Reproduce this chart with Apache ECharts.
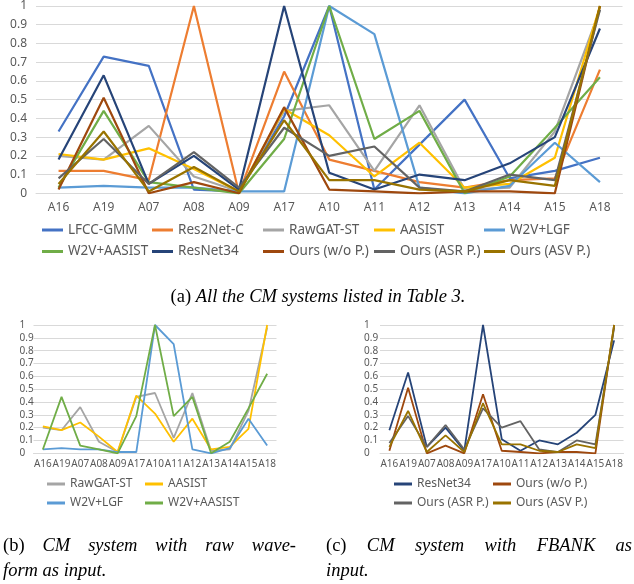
<!DOCTYPE html>
<html><head><meta charset="utf-8">
<script src="https://cdn.jsdelivr.net/npm/echarts@6/dist/echarts.min.js"></script>
<style>html,body{margin:0;padding:0;background:#fff}#c{width:634px;height:584px}</style>
</head><body><div id="c"></div>
<script>
// ---- data ----
const categories = ['A16','A19','A07','A08','A09','A17','A10','A11','A12','A13','A14','A15','A18'];
const yTickMax = 1;
const yTickStep = 0.1;

const lfccGmm    = [0.33, 0.73, 0.68, 0.02, 0.01, 0.41, 1.00, 0.02, 0.26, 0.50, 0.08, 0.12, 0.19];
const res2NetC   = [0.12, 0.12, 0.07, 1.00, 0.00, 0.65, 0.18, 0.12, 0.06, 0.03, 0.07, 0.08, 0.66];
const rawGatSt   = [0.20, 0.18, 0.36, 0.09, 0.01, 0.44, 0.47, 0.12, 0.47, 0.02, 0.03, 0.33, 0.98];
const aasist     = [0.21, 0.18, 0.24, 0.13, 0.01, 0.45, 0.31, 0.09, 0.27, 0.03, 0.05, 0.19, 1.00];
const w2vLgf     = [0.03, 0.04, 0.03, 0.03, 0.01, 0.01, 1.00, 0.85, 0.03, 0.00, 0.04, 0.27, 0.06];
const w2vAasist  = [0.03, 0.44, 0.06, 0.03, 0.00, 0.29, 1.00, 0.29, 0.44, 0.00, 0.09, 0.35, 0.62];
const resNet34   = [0.18, 0.63, 0.05, 0.20, 0.02, 1.00, 0.11, 0.02, 0.10, 0.07, 0.16, 0.30, 0.88];
const oursNoP    = [0.02, 0.51, 0.00, 0.06, 0.00, 0.46, 0.02, 0.01, 0.00, 0.01, 0.01, 0.00, 1.00];
const oursAsrP   = [0.08, 0.29, 0.05, 0.22, 0.03, 0.35, 0.20, 0.25, 0.03, 0.01, 0.10, 0.07, 0.98];
const oursAsvP   = [0.05, 0.33, 0.01, 0.14, 0.01, 0.39, 0.07, 0.07, 0.02, 0.01, 0.07, 0.04, 1.00];

const seriesDefs = [
  {name:'LFCC-GMM',       data:lfccGmm,   color:'#4472C4'},
  {name:'Res2Net-C',      data:res2NetC,  color:'#ED7D31'},
  {name:'RawGAT-ST',      data:rawGatSt,  color:'#A5A5A5'},
  {name:'AASIST',         data:aasist,    color:'#FFC000'},
  {name:'W2V+LGF',        data:w2vLgf,    color:'#5B9BD5'},
  {name:'W2V+AASIST',     data:w2vAasist, color:'#70AD47'},
  {name:'ResNet34',       data:resNet34,  color:'#264478'},
  {name:'Ours (w/o P.)',  data:oursNoP,   color:'#9E480E'},
  {name:'Ours (ASR P.)',  data:oursAsrP,  color:'#636363'},
  {name:'Ours (ASV P.)',  data:oursAsvP,  color:'#997300'}
];
const panelB = ['RawGAT-ST','AASIST','W2V+LGF','W2V+AASIST'];
const panelC = ['ResNet34','Ours (w/o P.)','Ours (ASR P.)','Ours (ASV P.)'];

// ---- chart ----
const TXT = '#595959', GRID = '#d9d9d9', SANS = 'Noto Sans';
const chart = echarts.init(document.getElementById('c'), null, {renderer:'canvas'});

function xAx(gi, fs, margin){
  return {type:'category', gridIndex:gi, data:categories, boundaryGap:true,
    axisTick:{show:false}, axisLine:{lineStyle:{color:GRID, width:1}},
    axisLabel:{color:TXT, fontSize:fs, fontFamily:SANS, margin:margin, interval:0, hideOverlap:false}};
}
function yAx(gi, fs, margin, align){
  return {type:'value', gridIndex:gi, min:0, max:yTickMax, interval:yTickStep,
    axisLine:{show:false}, axisTick:{show:false},
    splitLine:{lineStyle:{color:GRID, width:1}},
    axisLabel:{color:TXT, fontSize:fs, fontFamily:SANS, margin:margin, align:align,
      formatter: v => String(Math.round(v*10)/10)}};
}

const series = [];
seriesDefs.forEach(s => series.push({type:'line', name:s.name, xAxisIndex:0, yAxisIndex:0,
  data:s.data, symbol:'none', lineStyle:{color:s.color, width:2.2}, itemStyle:{color:s.color}}));
[[panelB,1],[panelC,2]].forEach(([names,gi]) => names.forEach(n => {
  const s = seriesDefs.find(d => d.name === n);
  series.push({type:'line', name:s.name, xAxisIndex:gi, yAxisIndex:gi,
    data:s.data, symbol:'none', lineStyle:{color:s.color, width:1.8}, itemStyle:{color:s.color}});
}));

const legends = [];
function leg(name, left, top, fs, iw){
  legends.push({data:[name], left:left, top:top, orient:'horizontal', padding:0, itemGap:0,
    icon:'rect', itemWidth:iw, itemHeight:3, selectedMode:false,
    textStyle:{color:TXT, fontSize:fs, fontFamily:SANS}});
}
// panel (a) legend: 5 columns x 2 rows
const colA = [42, 152, 263, 374, 484];
seriesDefs.forEach((s,i) => leg(s.name, colA[i%5], i<5 ? 223 : 244.5, 13.5, 21));
// panel (b)
leg('RawGAT-ST', 47, 478, 12, 18); leg('AASIST', 145, 478, 12, 18);
leg('W2V+LGF', 47, 497, 12, 18);   leg('W2V+AASIST', 145, 497, 12, 18);
// panel (c)
leg('ResNet34', 394, 478, 12, 18);      leg('Ours (w/o P.)', 493, 478, 12, 18);
leg('Ours (ASR P.)', 394, 497, 12, 18); leg('Ours (ASV P.)', 493, 497, 12, 18);

// ---- captions ----
const cv = document.createElement('canvas').getContext('2d');
const SERIF = 'Liberation Serif';
const CFS = 18.5;
const fN = CFS + 'px "' + SERIF + '"', fI = 'italic ' + CFS + 'px "' + SERIF + '"';
function w(t, f){ cv.font = f; return cv.measureText(t).width; }
const graphics = [];
function txt(t, x, y, f){
  graphics.push({type:'text', x:x, y:y, silent:true,
    style:{text:t, font:f, fill:'#000', textAlign:'left', textVerticalAlign:'middle'}});
}
// (a) centered
(function(){
  const p1 = '(a) ', p2 = 'All the CM systems listed in Table 3.';
  const tot = w(p1,fN) + w(p2,fI);
  const x0 = 318 - tot/2;
  txt(p1, x0, 297, fN); txt(p2, x0 + w(p1,fN), 297, fI);
})();
function justify(words, x0, x1, y){
  const fonts = words.map((_,i) => i===0 ? fN : fI);
  const W = words.reduce((a,t,i) => a + w(t,fonts[i]), 0);
  const gap = (x1 - x0 - W) / (words.length - 1);
  let x = x0;
  words.forEach((t,i) => { txt(t, x, y, fonts[i]); x += w(t,fonts[i]) + gap; });
}
justify(['(b)','CM','system','with','raw','wave-'], 3, 296, 546);
txt('form as input.', 3, 571, fI);
justify(['(c)','CM','system','with','FBANK','as'], 326, 632, 546);
txt('input.', 326, 571, fI);

chart.setOption({
  animation:false,
  backgroundColor:'#fff',
  grid:[
    {left:36, top:5.7, width:586.5, height:187.6},
    {left:33.5, top:325, width:243, height:128.3},
    {left:380, top:325, width:243.5, height:128.3}
  ],
  xAxis:[xAx(0,12,8), xAx(1,10,6), xAx(2,10,6)],
  yAxis:[yAx(0,12,9,'right'), yAx(1,10,14,'left'), yAx(2,10,16,'left')],
  legend:legends,
  series:series,
  graphic:graphics
});
</script></body></html>
